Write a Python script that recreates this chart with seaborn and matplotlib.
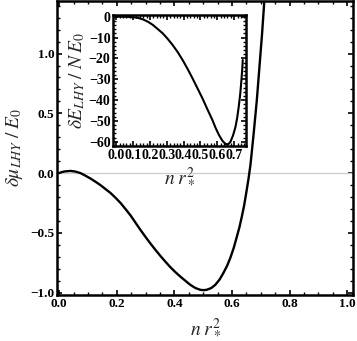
import numpy as np
import pandas as pd
import matplotlib
matplotlib.use('Agg')
import matplotlib.pyplot as plt
import seaborn as sns
from matplotlib.ticker import MultipleLocator

sns.set_theme(style='white')
plt.rcParams['font.family'] = ['Liberation Serif', 'DejaVu Serif']
plt.rcParams['mathtext.fontset'] = 'stix'

# main curve: chemical potential correction vs n r*^2
mu_x = [0.0, 0.01, 0.02, 0.039, 0.056, 0.074, 0.09, 0.109, 0.126, 0.143,
        0.16, 0.178, 0.195, 0.213, 0.23, 0.248, 0.265, 0.282, 0.3, 0.317,
        0.335, 0.352, 0.37, 0.385, 0.403, 0.42, 0.44, 0.455, 0.473, 0.49,
        0.502, 0.513, 0.528, 0.542, 0.557, 0.57, 0.583, 0.594, 0.606, 0.617,
        0.626, 0.634, 0.642, 0.649, 0.657, 0.664, 0.675, 0.686, 0.695, 0.704,
        0.712]
mu_y = [0.0, 0.009, 0.014, 0.018, 0.013, 0.0, -0.02, -0.046, -0.072, -0.10,
        -0.132, -0.166, -0.205, -0.25, -0.30, -0.355, -0.415, -0.475, -0.535,
        -0.59, -0.645, -0.695, -0.745, -0.785, -0.828, -0.865, -0.905, -0.935,
        -0.962, -0.977, -0.98, -0.976, -0.962, -0.935, -0.89, -0.836, -0.775,
        -0.71, -0.625, -0.53, -0.45, -0.364, -0.27, -0.17, -0.05, 0.07, 0.33,
        0.61, 0.886, 1.16, 1.44]

# inset: energy per particle correction
e_x = [0.0, 0.05, 0.10, 0.13, 0.159, 0.19, 0.218, 0.246, 0.276, 0.305,
       0.335, 0.365, 0.394, 0.424, 0.453, 0.482, 0.512, 0.541, 0.571, 0.59,
       0.61, 0.63, 0.649, 0.665, 0.678, 0.693, 0.708, 0.718, 0.727, 0.736,
       0.743, 0.748, 0.751]
e_y = [0.0, -0.05, -0.25, -0.6, -1.3, -2.5, -4.0, -5.9, -8.0, -10.6, -13.6,
       -17.0, -20.8, -25.1, -29.6, -34.3, -39.2, -44.4, -49.6, -53.4, -56.8,
       -59.5, -61.1, -61.2, -60.0, -57.0, -52.8, -48.4, -43.2, -37.0, -30.4,
       -25.0, -20.8]

main_df = pd.DataFrame({'x': mu_x, 'y': mu_y})
ins_df = pd.DataFrame({'x': e_x, 'y': e_y})

fig = plt.figure(figsize=(3.57, 3.41), dpi=100)
ax = fig.add_axes([0.160, 0.135, 0.829, 0.862])
ax.axhline(0, color='#cccccc', lw=0.9, zorder=1)
sns.lineplot(data=main_df, x='x', y='y', ax=ax, color='black', lw=1.7,
             sort=False, zorder=3)
ax.set_xlim(-0.007, 1.02)
ax.set_ylim(-1.02, 1.44)
ax.set_xticks([0.0, 0.2, 0.4, 0.6, 0.8, 1.0])
ax.set_xticklabels(['0.0', '0.2', '0.4', '0.6', '0.8', '1.0'])
ax.set_yticks([-1.0, -0.5, 0.0, 0.5, 1.0])
ax.set_yticklabels(['\u22121.0', '\u22120.5', '0.0', '0.5', '1.0'])
ax.xaxis.set_minor_locator(MultipleLocator(0.05))
ax.yaxis.set_minor_locator(MultipleLocator(0.1))
ax.set_xlabel(r'$n\;r_*^2$', fontsize=14, labelpad=5)
ax.set_ylabel(r'$\delta\mu_{LHY}\;/\;E_0$', fontsize=14, labelpad=4)

ins = fig.add_axes([0.317, 0.572, 0.372, 0.384])
sns.lineplot(data=ins_df, x='x', y='y', ax=ins, color='black', lw=1.5,
             sort=False)
ins.set_xlim(-0.018, 0.77)
ins.set_ylim(-62, 0.8)
ins.set_xticks([0, 0.1, 0.2, 0.3, 0.4, 0.5, 0.6, 0.7])
ins.set_xticklabels(['0.0', '0.1', '0.2', '0.3', '0.4', '0.5', '0.6', '0.7'])
ins.set_yticks([-60, -50, -40, -30, -20, -10, 0])
ins.set_yticklabels(['\u221260', '\u221250', '\u221240', '\u221230', '\u221220',
                     '\u221210', '0'])
ins.xaxis.set_minor_locator(MultipleLocator(0.02))
ins.yaxis.set_minor_locator(MultipleLocator(2))
ins.set_xlabel(r'$n\;r_*^2$', fontsize=14, labelpad=3)
ins.set_ylabel(r'$\delta E_{LHY}\;/\;N\;E_0$', fontsize=14, labelpad=1)

for a, sz in ((ax, 9.5), (ins, 10)):
    for s in a.spines.values():
        s.set_linewidth(1.8)
        s.set_color('black')
    a.tick_params(which='both', direction='in', top=True, right=True,
                  bottom=True, left=True, colors='black', labelsize=sz, pad=2)
    a.tick_params(which='major', length=3.5, width=1.2)
    a.tick_params(which='minor', length=2, width=1.0)
    for lab in a.get_xticklabels() + a.get_yticklabels():
        lab.set_fontweight('bold')

fig.savefig('out.png', dpi=100)
